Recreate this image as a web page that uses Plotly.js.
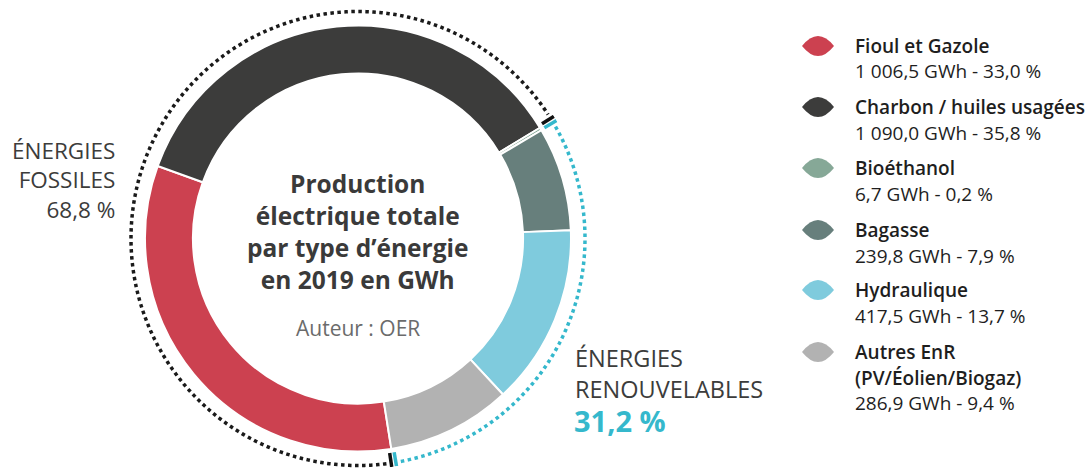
<!DOCTYPE html>
<html><head><meta charset="utf-8">
<script src="https://cdn.plot.ly/plotly-3.0.1.min.js"></script>
<style>html,body{margin:0;padding:0;background:#fff}#chart{width:1091px;height:470px}</style>
</head><body><div id="chart"></div>
<script>
// ---- data ----
const categories = ["Fioul et Gazole", "Charbon / huiles usagées", "Bioéthanol", "Bagasse", "Hydraulique", "Autres EnR<br>(PV/Éolien/Biogaz)"];
const valuesGWh = [1006.5, 1090.0, 6.7, 239.8, 417.5, 286.9];
const groups = ["fossile", "fossile", "renouvelable", "renouvelable", "renouvelable", "renouvelable"];
const sliceColors = ["#cc4150", "#3c3c3b", "#86a897", "#677f7c", "#7fcbdd", "#b2b2b2"];
const fossilLabel = "ÉNERGIES<br>FOSSILES";
const renewLabel = "ÉNERGIES<br>RENOUVELABLES";
const centerTitle = "Production<br>électrique totale<br>par type d’énergie<br>en 2019 en GWh";
const author = "Auteur : OER";

// ---- helpers ----
const W = 1091, H = 470;
const px = x => x / W, py = y => 1 - y / H;
const cx = 358, cy = 238.5, R = 213, Rdot = 227;
const rotation = 171;
const total = valuesGWh.reduce((a, b) => a + b, 0);
const fossilTotal = valuesGWh.filter((v, i) => groups[i] === "fossile").reduce((a, b) => a + b, 0);
const fossilShare = fossilTotal / total;
const frNum = (v, d) => {
  const s = v.toFixed(d).split(".");
  const intPart = s[0].replace(/\B(?=(\d{3})+(?!\d))/g, " ");
  return intPart + (d > 0 ? "," + s[1] : "");
};
const pct = v => frNum(100 * v / total, 1) + " %";

// ---- donut ----
const pie = {
  type: "pie",
  values: valuesGWh,
  labels: categories,
  marker: {colors: sliceColors, line: {color: "#ffffff", width: 2}},
  hole: 0.775,
  sort: false,
  direction: "clockwise",
  rotation: rotation,
  textinfo: "none",
  hoverinfo: "label+value+percent",
  showlegend: false,
  domain: {x: [px(cx - R), px(cx + R)], y: [py(cy + R), py(cy - R)]}
};

// ---- dotted group arcs (polar) ----
const Rpolar = H - cy - 0.5;
const rMax = Rpolar / Rdot;
const fossilEnd = rotation + 360 * fossilShare;
function arcTheta(a0, a1) {
  const n = Math.ceil(Math.abs(a1 - a0) / 0.5);
  const t = [];
  for (let i = 0; i <= n; i++) t.push(a0 + (a1 - a0) * i / n);
  return t;
}
function arcTrace(a0, a1, color) {
  const th = arcTheta(a0, a1);
  return {type: "scatterpolar", mode: "lines", r: th.map(() => 1), theta: th,
    line: {color: color, width: 3.5, dash: "3.5px,3.5px"}, hoverinfo: "skip", showlegend: false};
}
function tickTrace(a, color) {
  return {type: "scatterpolar", mode: "lines", r: [0.955, rMax], theta: [a, a],
    line: {color: color, width: 3.5}, hoverinfo: "skip", showlegend: false};
}
const cyan = "#35b8cc";
const traces = [
  pie,
  arcTrace(rotation + 1.8, fossilEnd - 1.8, "#1a1a1a"),
  arcTrace(fossilEnd - 360 + 1.8, rotation - 1.8, cyan),
  tickTrace(rotation + 0.6, "#111111"),
  tickTrace(rotation - 0.6, cyan),
  tickTrace(fossilEnd - 0.6, "#111111"),
  tickTrace(fossilEnd + 0.6, cyan)
];

// ---- legend (custom) ----
const legendNameY = [46, 107, 168, 230, 290, 352];
const annotations = [];
const shapes = [];
categories.forEach((c, i) => {
  const y0 = legendNameY[i];
  shapes.push({type: "path", xref: "paper", yref: "paper", xsizemode: "pixel", ysizemode: "pixel",
    xanchor: px(818), yanchor: py(y0), path: "M -16,0 Q 0,20 16,0 Q 0,-20 -16,0 Z",
    fillcolor: sliceColors[i], line: {width: 0}});
  const lines = c.split("<br>");
  lines.forEach((ln, k) => {
    annotations.push({xref: "paper", yref: "paper", x: px(853), y: py(y0 + k * 26), xanchor: "left", yanchor: "middle",
      text: ln, showarrow: false, font: {family: "Open Sans", size: 19, weight: 600, color: "#1e1e1e"}});
  });
  annotations.push({xref: "paper", yref: "paper", x: px(853), y: py(y0 + lines.length * 25.5), xanchor: "left", yanchor: "middle",
    text: frNum(valuesGWh[i], 1) + " GWh - " + pct(valuesGWh[i]), showarrow: false,
    font: {family: "Open Sans", size: 19, color: "#1e1e1e"}});
});

// group labels
annotations.push({xref: "paper", yref: "paper", x: px(117), y: py(180), xanchor: "right", yanchor: "middle", align: "right",
  text: fossilLabel + "<br>" + pct(fossilTotal), showarrow: false,
  font: {family: "Open Sans", size: 22.5, color: "#3c3c3b"}});
annotations.push({xref: "paper", yref: "paper", x: px(573), y: py(373), xanchor: "left", yanchor: "middle", align: "left",
  text: renewLabel, showarrow: false, font: {family: "Open Sans", size: 23.5, color: "#3c3c3b"}});
annotations.push({xref: "paper", yref: "paper", x: px(572), y: py(420), xanchor: "left", yanchor: "middle", align: "left",
  text: pct(total - fossilTotal), showarrow: false, font: {family: "Open Sans", size: 29, weight: 700, color: cyan}});

// center
annotations.push({xref: "paper", yref: "paper", x: px(cx), y: py(231), xanchor: "center", yanchor: "middle", align: "center",
  text: centerTitle, showarrow: false, font: {family: "Open Sans", size: 24.5, weight: 700, color: "#3a3a3a"}});
annotations.push({xref: "paper", yref: "paper", x: px(cx), y: py(328), xanchor: "center", yanchor: "middle",
  text: author, showarrow: false, font: {family: "Open Sans", size: 21, color: "#6b6b6b"}});

const layout = {
  width: W, height: H,
  margin: {l: 0, r: 0, t: 0, b: 0},
  paper_bgcolor: "#ffffff",
  showlegend: false,
  polar: {
    domain: {x: [px(cx - Rpolar), px(cx + Rpolar)], y: [py(cy + Rpolar), py(cy - Rpolar)]},
    bgcolor: "rgba(0,0,0,0)",
    radialaxis: {range: [0, rMax], visible: false, showgrid: false, showline: false, showticklabels: false, ticks: ""},
    angularaxis: {rotation: 90, direction: "clockwise", visible: false, showgrid: false, showline: false, showticklabels: false, ticks: ""}
  },
  annotations: annotations,
  shapes: shapes
};
Plotly.newPlot("chart", traces, layout, {displayModeBar: false, staticPlot: true});
</script>
</body></html>
